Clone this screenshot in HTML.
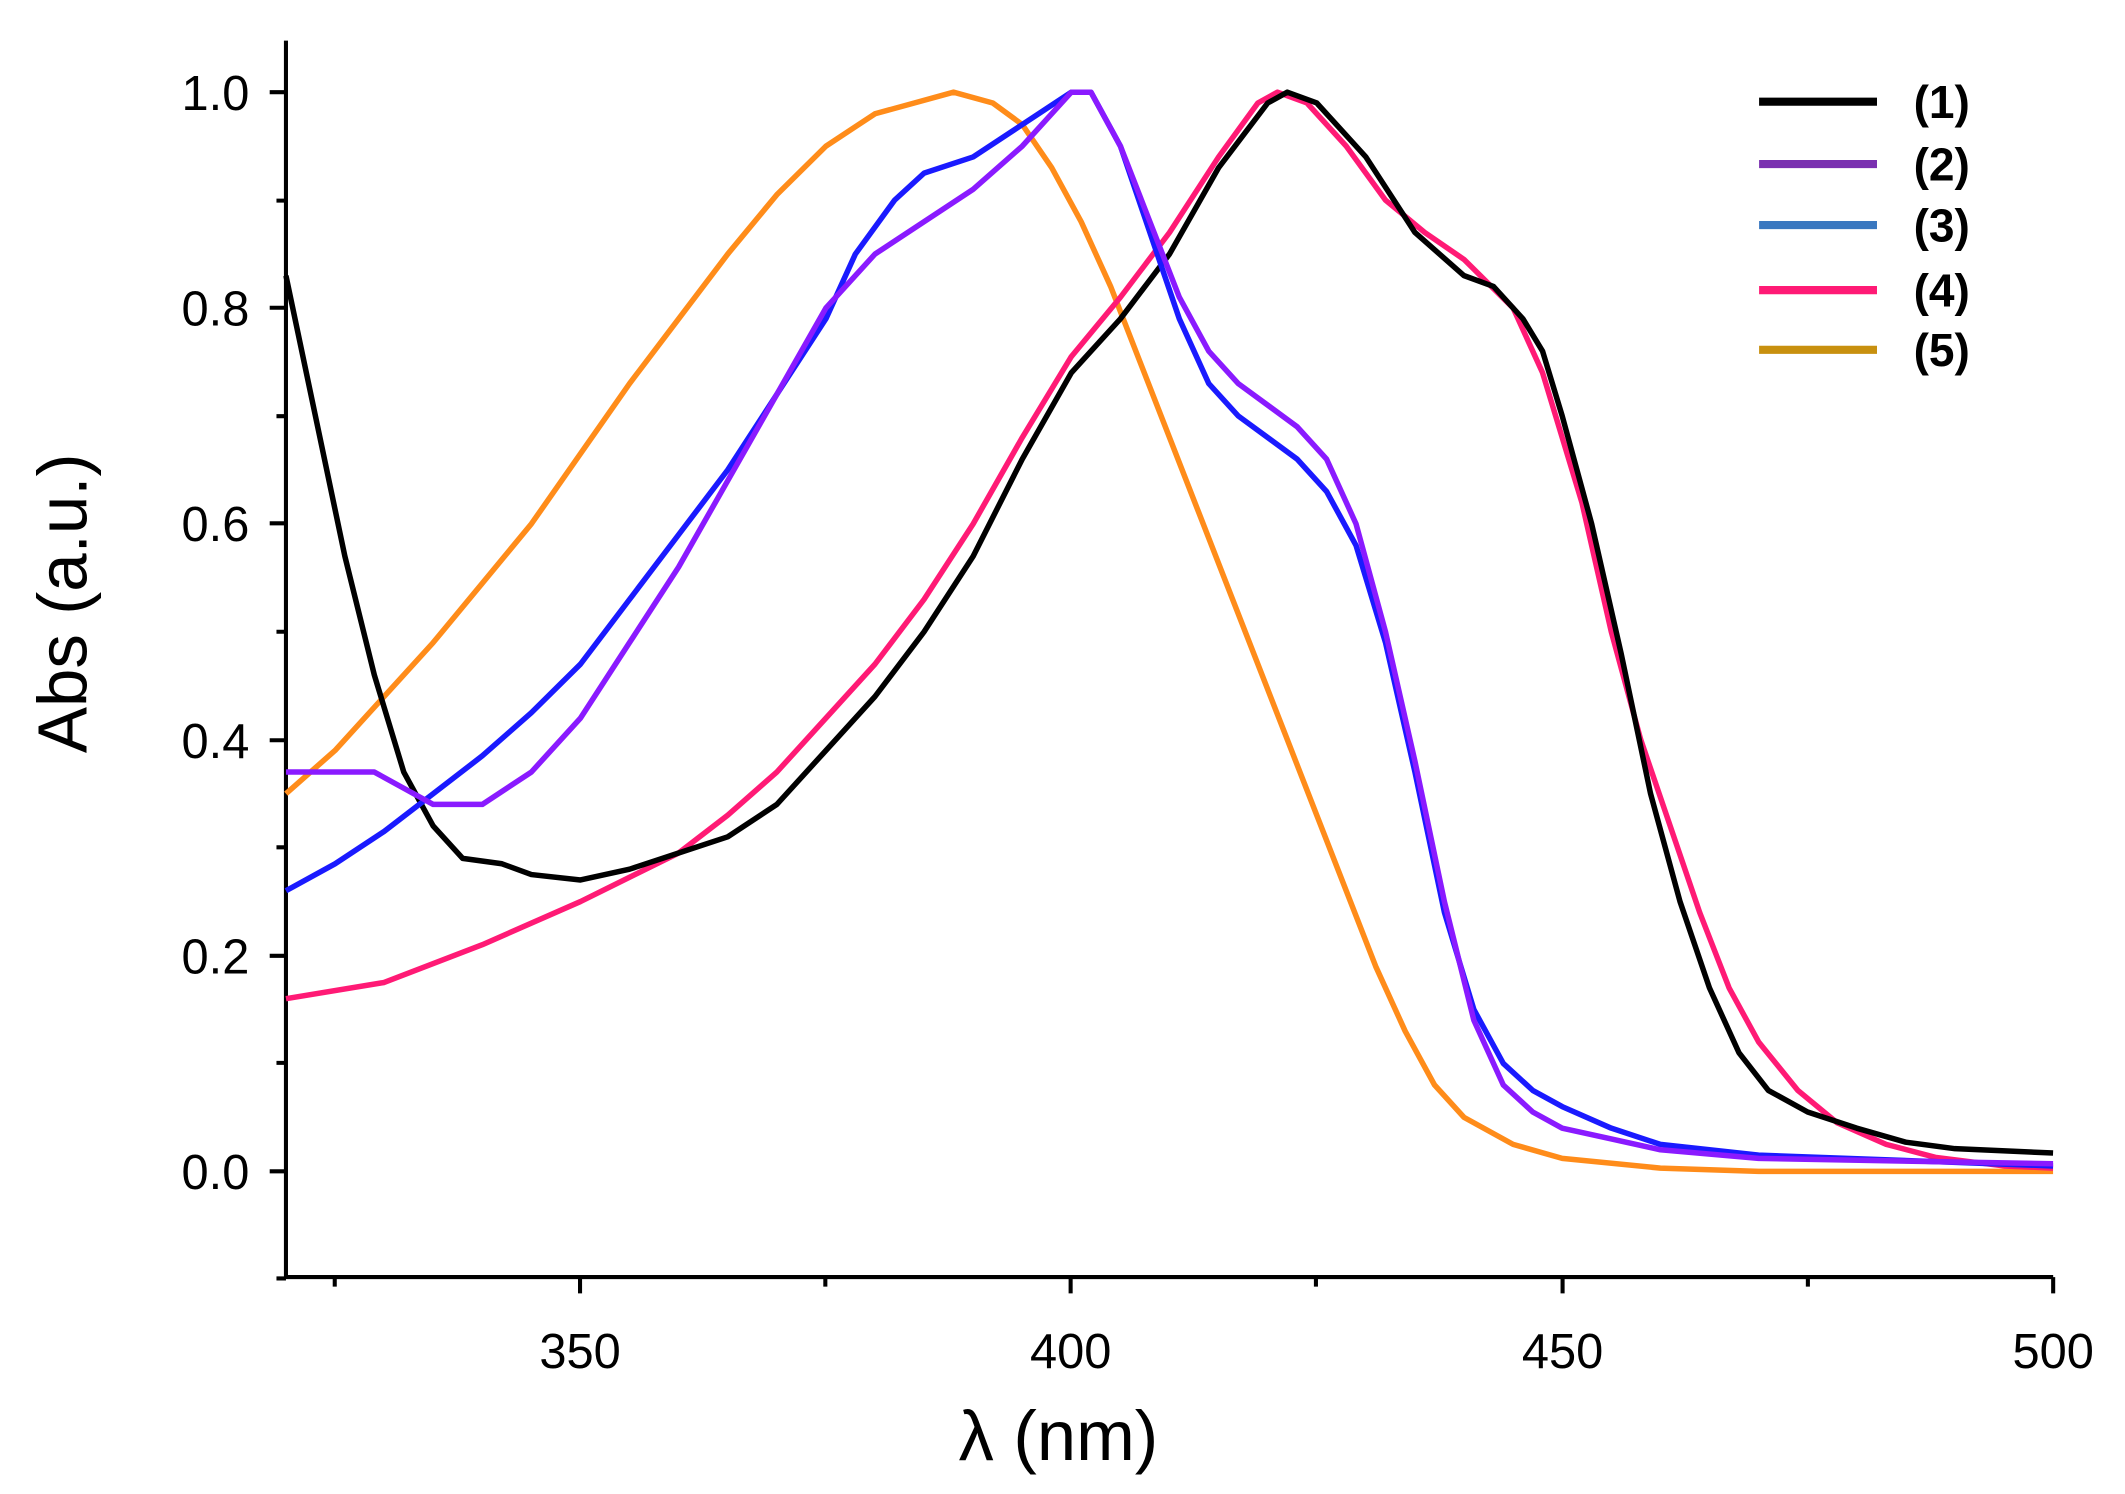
<!DOCTYPE html>
<html><head><style>html,body{margin:0;padding:0;background:#fff}svg{display:block}</style></head>
<body>
<svg width="2125" height="1494" viewBox="0 0 1568 1102" preserveAspectRatio="none" xmlns="http://www.w3.org/2000/svg" font-family="Liberation Sans, Arial, sans-serif">
<g stroke="#000" stroke-width="3" fill="none">
<path d="M211,30V942H1515"/>
<path d="M428,942v12M790,942v12M1153,942v12M1515,942v12M247,942v7M609,942v7M971,942v7M1334,942v7"/>
<path d="M211,864h-12M211,705h-12M211,546h-12M211,386h-12M211,227h-12M211,68h-12M211,943h-7M211,784h-7M211,625h-7M211,466h-7M211,307h-7M211,148h-7"/>
</g>
<g font-size="36" text-anchor="middle" fill="#000">
<text x="428" y="1009">350</text><text x="790" y="1009">400</text><text x="1153" y="1009">450</text><text x="1515" y="1009">500</text>
</g>
<g font-size="36" text-anchor="end" fill="#000">
<text x="184" y="877">0.0</text><text x="184" y="718">0.2</text><text x="184" y="559">0.4</text><text x="184" y="399">0.6</text><text x="184" y="240">0.8</text><text x="184" y="81">1.0</text>
</g>
<text x="781" y="1077" font-size="52" text-anchor="middle">λ (nm)</text>
<text transform="translate(64,445) rotate(-90)" font-size="51" text-anchor="middle">Abs (a.u.)</text>
<g transform="translate(211,864) scale(7.244,-796) translate(-320,0)" fill="none" stroke-width="5.5" stroke-linejoin="round">
<polyline vector-effect="non-scaling-stroke" stroke="#ff8c1a" points="320,.35 325,.39 330,.44 335,.49 340,.545 345,.6 350,.665 355,.73 360,.79 365,.85 370,.905 375,.95 380,.98 384,.99 388,1 392,.99 395,.97 398,.93 401,.88 404,.82 407,.75 410,.68 413,.61 416,.54 419,.47 422,.4 425,.33 428,.26 431,.19 434,.13 437,.08 440,.05 445,.025 450,.012 460,.003 470,0 500,0"/>
<polyline vector-effect="non-scaling-stroke" stroke="#ff1a75" points="320,.16 330,.175 340,.21 350,.25 360,.295 365,.33 370,.37 375,.42 380,.47 385,.53 390,.6 395,.68 400,.755 405,.81 410,.87 415,.94 419,.99 421,1 424,.99 428,.95 432,.9 436,.87 440,.845 445,.8 448,.74 452,.62 455,.5 458,.4 461,.32 464,.24 467,.17 470,.12 474,.075 478,.045 483,.025 488,.013 495,.005 500,.003"/>
<polyline vector-effect="non-scaling-stroke" stroke="#000" points="320,.83 323,.7 326,.57 329,.46 332,.37 335,.32 338,.29 342,.285 345,.275 350,.27 355,.28 360,.295 365,.31 370,.34 375,.39 380,.44 385,.5 390,.57 395,.66 400,.74 405,.79 410,.85 415,.93 420,.99 422,1 425,.99 430,.94 435,.87 440,.83 443,.82 446,.79 448,.76 450,.7 453,.6 456,.48 459,.35 462,.25 465,.17 468,.11 471,.075 475,.055 480,.04 485,.027 490,.021 500,.017"/>
<polyline vector-effect="non-scaling-stroke" stroke="#1a1aff" points="320,.26 325,.285 330,.315 335,.35 340,.385 345,.425 350,.47 355,.53 360,.59 365,.65 370,.72 375,.79 378,.85 382,.9 385,.925 390,.94 395,.97 400,1 402,1 405,.95 408,.87 411,.79 414,.73 417,.7 420,.68 423,.66 426,.63 429,.58 432,.49 435,.37 438,.24 441,.15 444,.1 447,.075 450,.06 455,.04 460,.025 470,.015 500,.005"/>
<polyline vector-effect="non-scaling-stroke" stroke="#8a1aff" points="320,.37 329,.37 332,.355 335,.34 340,.34 345,.37 350,.42 355,.49 360,.56 365,.64 370,.72 375,.8 380,.85 385,.88 390,.91 395,.95 400,1 402,1 405,.95 408,.88 411,.81 414,.76 417,.73 420,.71 423,.69 426,.66 429,.6 432,.5 435,.38 438,.25 441,.14 444,.08 447,.055 450,.04 455,.03 460,.02 470,.012 500,.007"/>
</g>
<g stroke-width="6">
<line x1="1298" y1="75" x2="1385" y2="75" stroke="#000"/>
<line x1="1298" y1="121" x2="1385" y2="121" stroke="#7a30b0"/>
<line x1="1298" y1="166" x2="1385" y2="166" stroke="#3a78c0"/>
<line x1="1298" y1="214" x2="1385" y2="214" stroke="#ff1a75"/>
<line x1="1298" y1="258" x2="1385" y2="258" stroke="#c8900f"/>
</g>
<g font-size="34" font-weight="bold" fill="#000">
<text x="1412" y="87">(1)</text><text x="1412" y="133">(2)</text><text x="1412" y="178">(3)</text><text x="1412" y="226">(4)</text><text x="1412" y="270">(5)</text>
</g>
</svg>
</body></html>
